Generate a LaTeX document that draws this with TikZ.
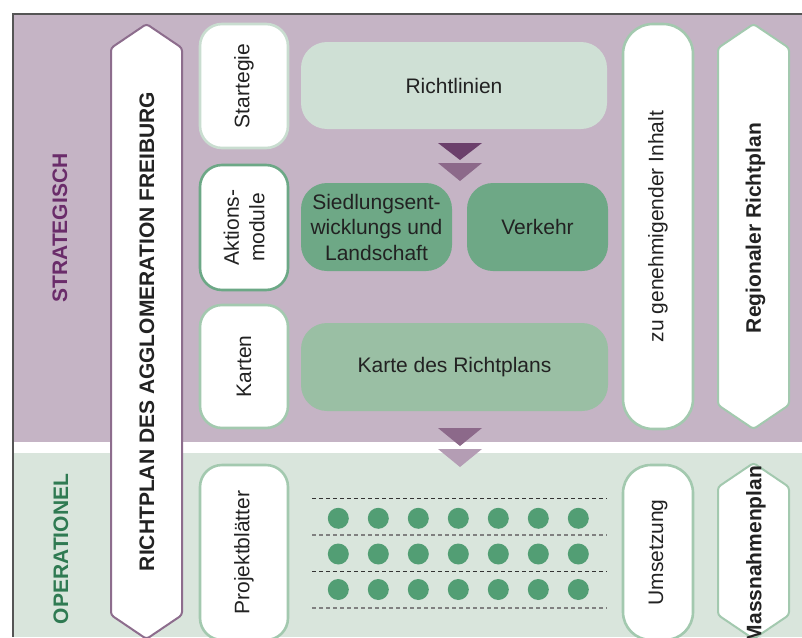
\documentclass[tikz,border=0pt]{standalone}
\usepackage{fontspec}
\setmainfont{Liberation Sans}

\definecolor{stratbg}{HTML}{C5B4C5}
\definecolor{opbg}{HTML}{D9E5DC}
\definecolor{framegray}{HTML}{555555}
\definecolor{plumline}{HTML}{8D6D8D}
\definecolor{paleedge}{HTML}{C9DDD0}
\definecolor{midedge}{HTML}{6CA886}
\definecolor{softedge}{HTML}{A3C9AF}
\definecolor{mintfill}{HTML}{CFE0D5}
\definecolor{sagefill}{HTML}{6EA886}
\definecolor{leaffill}{HTML}{9ABFA4}
\definecolor{dotgreen}{HTML}{529E74}
\definecolor{tridark}{HTML}{6B3F6B}
\definecolor{trimid}{HTML}{8C698A}
\definecolor{trilight}{HTML}{B49DB4}
\definecolor{stratlabel}{HTML}{6A2C6A}
\definecolor{oplabel}{HTML}{2F7A52}
\definecolor{inktext}{HTML}{222222}

\begin{document}
\begin{tikzpicture}[x=1pt,y=-1pt,
  font=\fontsize{21}{25.5}\selectfont,
  every node/.style={text=inktext, inner sep=0pt},
  sidebox/.style={draw, line width=2.6pt, fill=white, rounded corners=22pt,
    rotate=90, align=center},
  panel/.style={rounded corners=26pt, align=center},
  pennant/.style={fill=white, line width=2pt, rounded corners=3pt},
  heading/.style={rotate=90, font=\fontsize{21}{25.5}\selectfont\bfseries},
  arrowtri/.style={draw=none},
  rowline/.style={line width=1.1pt, dash pattern=on 3.6pt off 3.4pt},
  dot/.style={circle, fill=dotgreen, minimum size=21pt}
]
\useasboundingbox (0,0) rectangle (802,637);

% --- bands ---
\fill[stratbg] (13,14) rectangle (802,442);
\fill[opbg] (13,453) rectangle (802,637);
\draw[framegray, line width=2pt] (802,14) -- (13,14) -- (13,637);

% --- level labels ---
\node[heading, text=stratlabel] (strat) at (60,228) {STRATEGISCH};
\node[heading, text=oplabel] (oper) at (61,549) {OPERATIONEL};

% --- main pennant on the left ---
\draw[pennant, draw=plumline] (111,48) -- (146.5,24) -- (182,48) -- (182,615)
  -- (146.5,639) -- (111,615) -- cycle;
\node[heading] (agglo) at (147,331.5) {RICHTPLAN DES AGGLOMERATION FREIBURG};

% --- category boxes ---
\node[sidebox, draw=paleedge, minimum width=124pt, minimum height=88pt] (strategie) at (244,86) {Startegie};
\node[sidebox, draw=midedge, minimum width=125pt, minimum height=88pt] (aktion) at (244,227.5) {Aktions-\\module};
\node[sidebox, draw=softedge, minimum width=123pt, minimum height=88pt] (karten) at (244,366.5) {Karten};
\node[sidebox, draw=softedge, minimum width=175pt, minimum height=88pt] (projekt) at (244,552.5) {Projektblätter};

% --- content panels ---
\node[panel, fill=mintfill, minimum width=306pt, minimum height=87pt] (richtlinien) at (454,85.5) {Richtlinien};
\node[panel, fill=sagefill, minimum width=151pt, minimum height=88pt] (siedlung) at (376.5,227) {Siedlungsent-\\wicklungs und\\Landschaft};
\node[panel, fill=sagefill, minimum width=141pt, minimum height=88pt] (verkehr) at (537.5,227) {Verkehr};
\node[panel, fill=leaffill, minimum width=307pt, minimum height=88pt] (karte) at (454.5,367) {Karte des Richtplans};

% --- downward markers ---
\fill[tridark] (438,143) -- (482,143) -- (460,160) -- cycle;
\fill[trimid] (438,163) -- (482,163) -- (460,181) -- cycle;
\fill[trimid] (438,428) -- (482,428) -- (460,446) -- cycle;
\fill[trilight] (438,449) -- (482,449) -- (460,467) -- cycle;

% --- project sheets: rows of dots between dashed rules ---
\draw[rowline, draw=black!80] (312,498.5) -- (607,498.5);
\draw[rowline, draw=black!50] (312,535) -- (607,535);
\draw[rowline, draw=black!80] (312,571.5) -- (607,571.5);
\draw[rowline, draw=black!50] (312,608) -- (607,608);
\foreach \r/\yy in {1/518.3, 2/554, 3/589.5} {
  \foreach \c in {0,...,6} {
    \node[dot] (dot-\r-\c) at ({338.3+40*\c},\yy) {};
  }
}

% --- right column ---
\node[sidebox, draw=softedge, rounded corners=30pt, minimum width=405pt, minimum height=70pt] (inhalt) at (658,226.5) {zu genehmigender Inhalt};
\node[sidebox, draw=softedge, rounded corners=28pt, minimum width=175pt, minimum height=70pt] (umsetzung) at (658,552.5) {Umsetzung};

\draw[pennant, draw=softedge] (718,48) -- (753.5,24) -- (789,48) -- (789,405)
  -- (753.5,429) -- (718,405) -- cycle;
\node[heading] (regional) at (755.5,228) {Regionaler Richtplan};

\draw[pennant, draw=softedge] (718,487) -- (753.5,463) -- (789,487) -- (789,615)
  -- (753.5,639) -- (718,615) -- cycle;
\node[heading] (massnahmen) at (756,554) {Massnahmenplan};
\end{tikzpicture}
\end{document}
